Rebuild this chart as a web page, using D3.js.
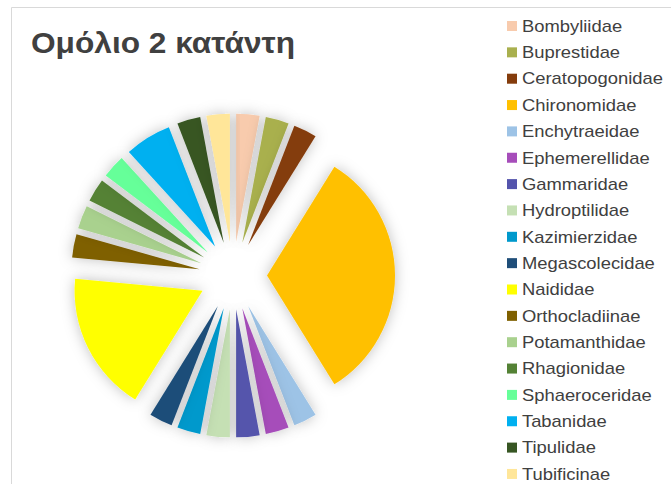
<!DOCTYPE html>
<html>
<head>
<meta charset="utf-8">
<script src="https://cdn.jsdelivr.net/npm/d3@7"></script>
<style>
  html, body { margin: 0; padding: 0; background: #ffffff; }
  svg { display: block; }
</style>
</head>
<body>
<svg id="chart" width="671" height="484"></svg>
<script>
// Families found at the downstream sampling site (counts of individuals)
const families = [
  "Bombyliidae", "Buprestidae", "Ceratopogonidae", "Chironomidae",
  "Enchytraeidae", "Ephemerellidae", "Gammaridae", "Hydroptilidae",
  "Kazimierzidae", "Megascolecidae", "Naididae", "Orthocladiinae",
  "Potamanthidae", "Rhagionidae", "Sphaeroceridae", "Tabanidae",
  "Tipulidae", "Tubificinae"
];
const counts = [1, 1, 1, 11, 1, 1, 1, 1, 1, 1, 6, 1, 1, 1, 1, 2, 1, 1];
const colors = [
  "#F8CBAD", "#A9B04E", "#843C0C", "#FFC000",
  "#9DC3E6", "#A64DBA", "#5454AC", "#C5E0B4",
  "#0099CC", "#1F4E79", "#FFFF00", "#7F6000",
  "#A9D18E", "#548235", "#66FF99", "#00B0F0",
  "#375623", "#FFE699"
];
const title = "Ομόλιο 2 κατάντη";

const svg = d3.select("#chart");
const W = 671, H = 484;

// Soft outer shadow around the slices
const defs = svg.append("defs");
const f = defs.append("filter").attr("id", "glow")
  .attr("x", "-40%").attr("y", "-40%").attr("width", "180%").attr("height", "180%");
f.append("feDropShadow").attr("dx", 0).attr("dy", 0)
  .attr("stdDeviation", 7).attr("flood-color", "#000").attr("flood-opacity", 0.25);

// Chart frame
svg.append("path")
  .attr("d", `M11.5,${H} L11.5,7.5 L${W},7.5`)
  .attr("fill", "none").attr("stroke", "#d9d9d9").attr("stroke-width", 1);

// Title
svg.append("text")
  .attr("x", 31).attr("y", 53)
  .attr("font-family", "Liberation Sans, Arial, sans-serif")
  .attr("font-weight", "bold").attr("font-size", 30)
  .attr("fill", "#404040")
  .attr("textLength", 264).attr("lengthAdjust", "spacingAndGlyphs")
  .text(title);

// Exploded pie
const cx = 233, cy = 275.5, radius = 128, explode = 34;
const data = families.map((name, i) => ({ name, value: counts[i], color: colors[i] }));
const pie = d3.pie().value(d => d.value).sort(null);
const arc = d3.arc().innerRadius(0).outerRadius(radius);
const arcs = pie(data);

const g = svg.append("g").attr("transform", `translate(${cx},${cy})`);
g.selectAll("path.slice")
  .data(arcs)
  .join("path")
  .attr("class", "slice")
  .attr("filter", "url(#glow)")
  .attr("transform", d => {
    const a = (d.startAngle + d.endAngle) / 2;
    return `translate(${Math.sin(a) * explode},${-Math.cos(a) * explode})`;
  })
  .attr("d", arc)
  .attr("fill", d => d.data.color);

// Legend
const legendX = 507, legendY0 = 26, legendStep = 26.35;
const lg = svg.append("g");
const rows = lg.selectAll("g.item")
  .data(data)
  .join("g")
  .attr("class", "item")
  .attr("transform", (d, i) => `translate(${legendX},${legendY0 + i * legendStep})`);
rows.append("rect")
  .attr("x", 0).attr("y", -5).attr("width", 10).attr("height", 10)
  .attr("fill", d => d.color);
rows.append("text")
  .attr("x", 13).attr("y", 0).attr("dy", "0.36em")
  .attr("font-family", "Liberation Sans, Arial, sans-serif")
  .attr("font-size", 16)
  .attr("fill", "#404040")
  .attr("transform", "scale(1.15,1)")
  .text(d => d.name);
</script>
</body>
</html>
